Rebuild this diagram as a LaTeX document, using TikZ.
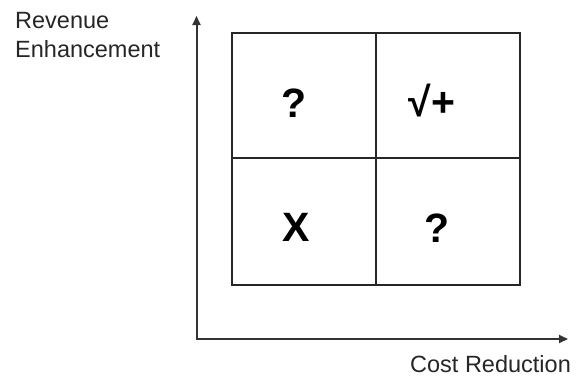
\documentclass[tikz,border=0pt]{standalone}
\usepackage{fontspec}
\setmainfont{Liberation Sans}
\usetikzlibrary{arrows.meta}
\begin{document}
\begin{tikzpicture}[x=1pt,y=-1pt,
  axis/.style={line width=2pt,draw=black!80,-{Triangle[length=9pt,width=8pt]}},
  grid/.style={line width=2pt,draw=black!85},
  axlabel/.style={font=\fontsize{23.5}{29}\selectfont,text=black!85,inner sep=0pt,anchor=base west},
  cellsym/.style={font=\fontsize{41}{41}\selectfont\bfseries,inner sep=0pt,text=black}]
\useasboundingbox (0,0) rectangle (576,389);
% axes
\coordinate (origin) at (196.5,339);
\coordinate (ytip) at (196.5,16);
\coordinate (xtip) at (568,339);
\draw[axis] ([yshift=-1pt]origin) -- (ytip);
\draw[axis] ([xshift=-1pt]origin) -- (xtip);
% quadrant grid
\draw[grid] (232,33) rectangle (520,285);
\draw[grid] (376,33) -- (376,285);
\draw[grid] (232,158) -- (520,158);
% symbols
\node[cellsym] (q1) at (294,103) {?};
\node[cellsym] (q2) at (432,101) {√+};
\node[cellsym] (q3) at (296,227) {X};
\node[cellsym] (q4) at (437,228) {?};
% labels
\node[axlabel] (ylab1) at (15,28) {Revenue};
\node[axlabel] (ylab2) at (15,57) {Enhancement};
\node[axlabel] (xlab) at (410,372) {Cost Reduction};
\end{tikzpicture}
\end{document}
